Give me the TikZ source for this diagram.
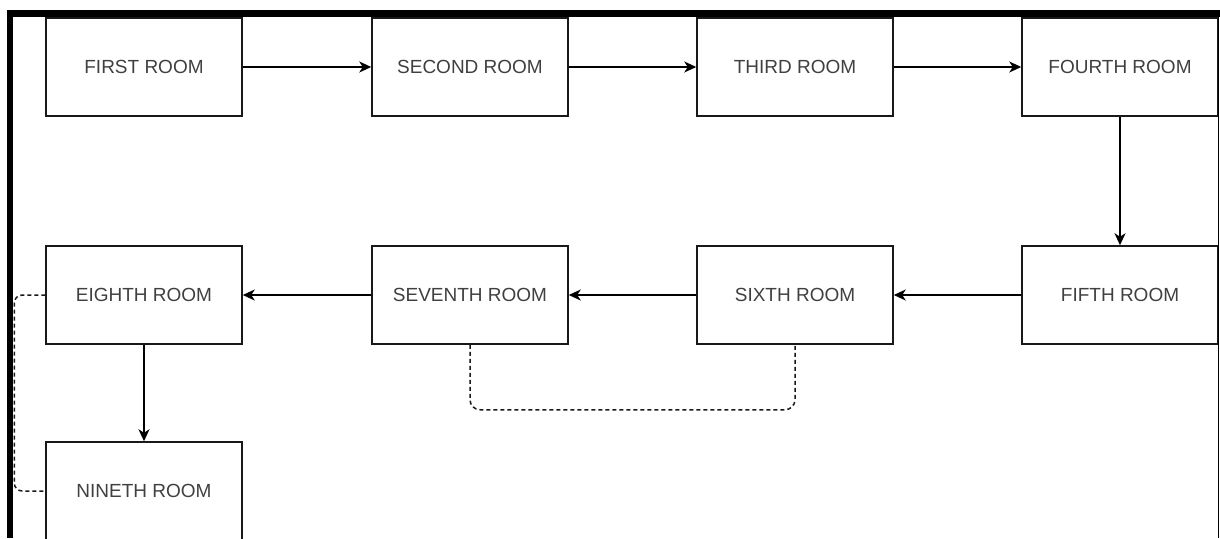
\documentclass[tikz,border=0pt]{standalone}
\usepackage{fontspec}
\setmainfont{Liberation Sans}
\usetikzlibrary{arrows.meta}
\begin{document}
\begin{tikzpicture}[x=1pt,y=-1pt,
  room/.style={draw=black!90, line width=1.5pt, fill=white, minimum width=196pt, minimum height=98pt, inner sep=0pt, font=\fontsize{19}{22}\selectfont, text=black!75},
  arr/.style={draw=black, line width=1.5pt, -{Stealth[length=12pt,width=11pt,inset=3.5pt]}},
  dsh/.style={draw=black!90, line width=1.5pt, dash pattern=on 4pt off 3pt}]
\useasboundingbox (0,0) rectangle (1220,538);
\clip (0,0) rectangle (1220,538);
\fill[white] (0,0) rectangle (1220,538);
\node[room] (first) at (144,67) {FIRST ROOM};
\node[room] (second) at (470,67) {SECOND ROOM};
\node[room] (third) at (795,67) {THIRD ROOM};
\node[room] (fourth) at (1120,67) {FOURTH ROOM};
\node[room] (fifth) at (1120,295) {FIFTH ROOM};
\node[room] (sixth) at (795,295) {SIXTH ROOM};
\node[room] (seventh) at (470,295) {SEVENTH ROOM};
\node[room] (eighth) at (144,295) {EIGHTH ROOM};
\node[room] (ninth) at (144,491) {NINETH ROOM};
\draw[arr] (first.east) -- (second.west);
\draw[arr] (second.east) -- (third.west);
\draw[arr] (third.east) -- (fourth.west);
\draw[arr] (fourth.south) -- (fifth.north);
\draw[arr] (fifth.west) -- (sixth.east);
\draw[arr] (sixth.west) -- (seventh.east);
\draw[arr] (seventh.west) -- (eighth.east);
\draw[arr] (eighth.south) -- (ninth.north);
\draw[dsh, rounded corners=10pt] (seventh.south) -- ++(0,65) -| (sixth.south);
\draw[dsh, rounded corners=8pt] (eighth.west) -- ++(-31,0) |- (ninth.west);
\fill[black] (7,10) rectangle (1220,17);
\fill[black] (7,10) rectangle (13,538);
\draw[black, line width=1.6pt] (1218.6,10) -- (1218.6,538);
\end{tikzpicture}
\end{document}
